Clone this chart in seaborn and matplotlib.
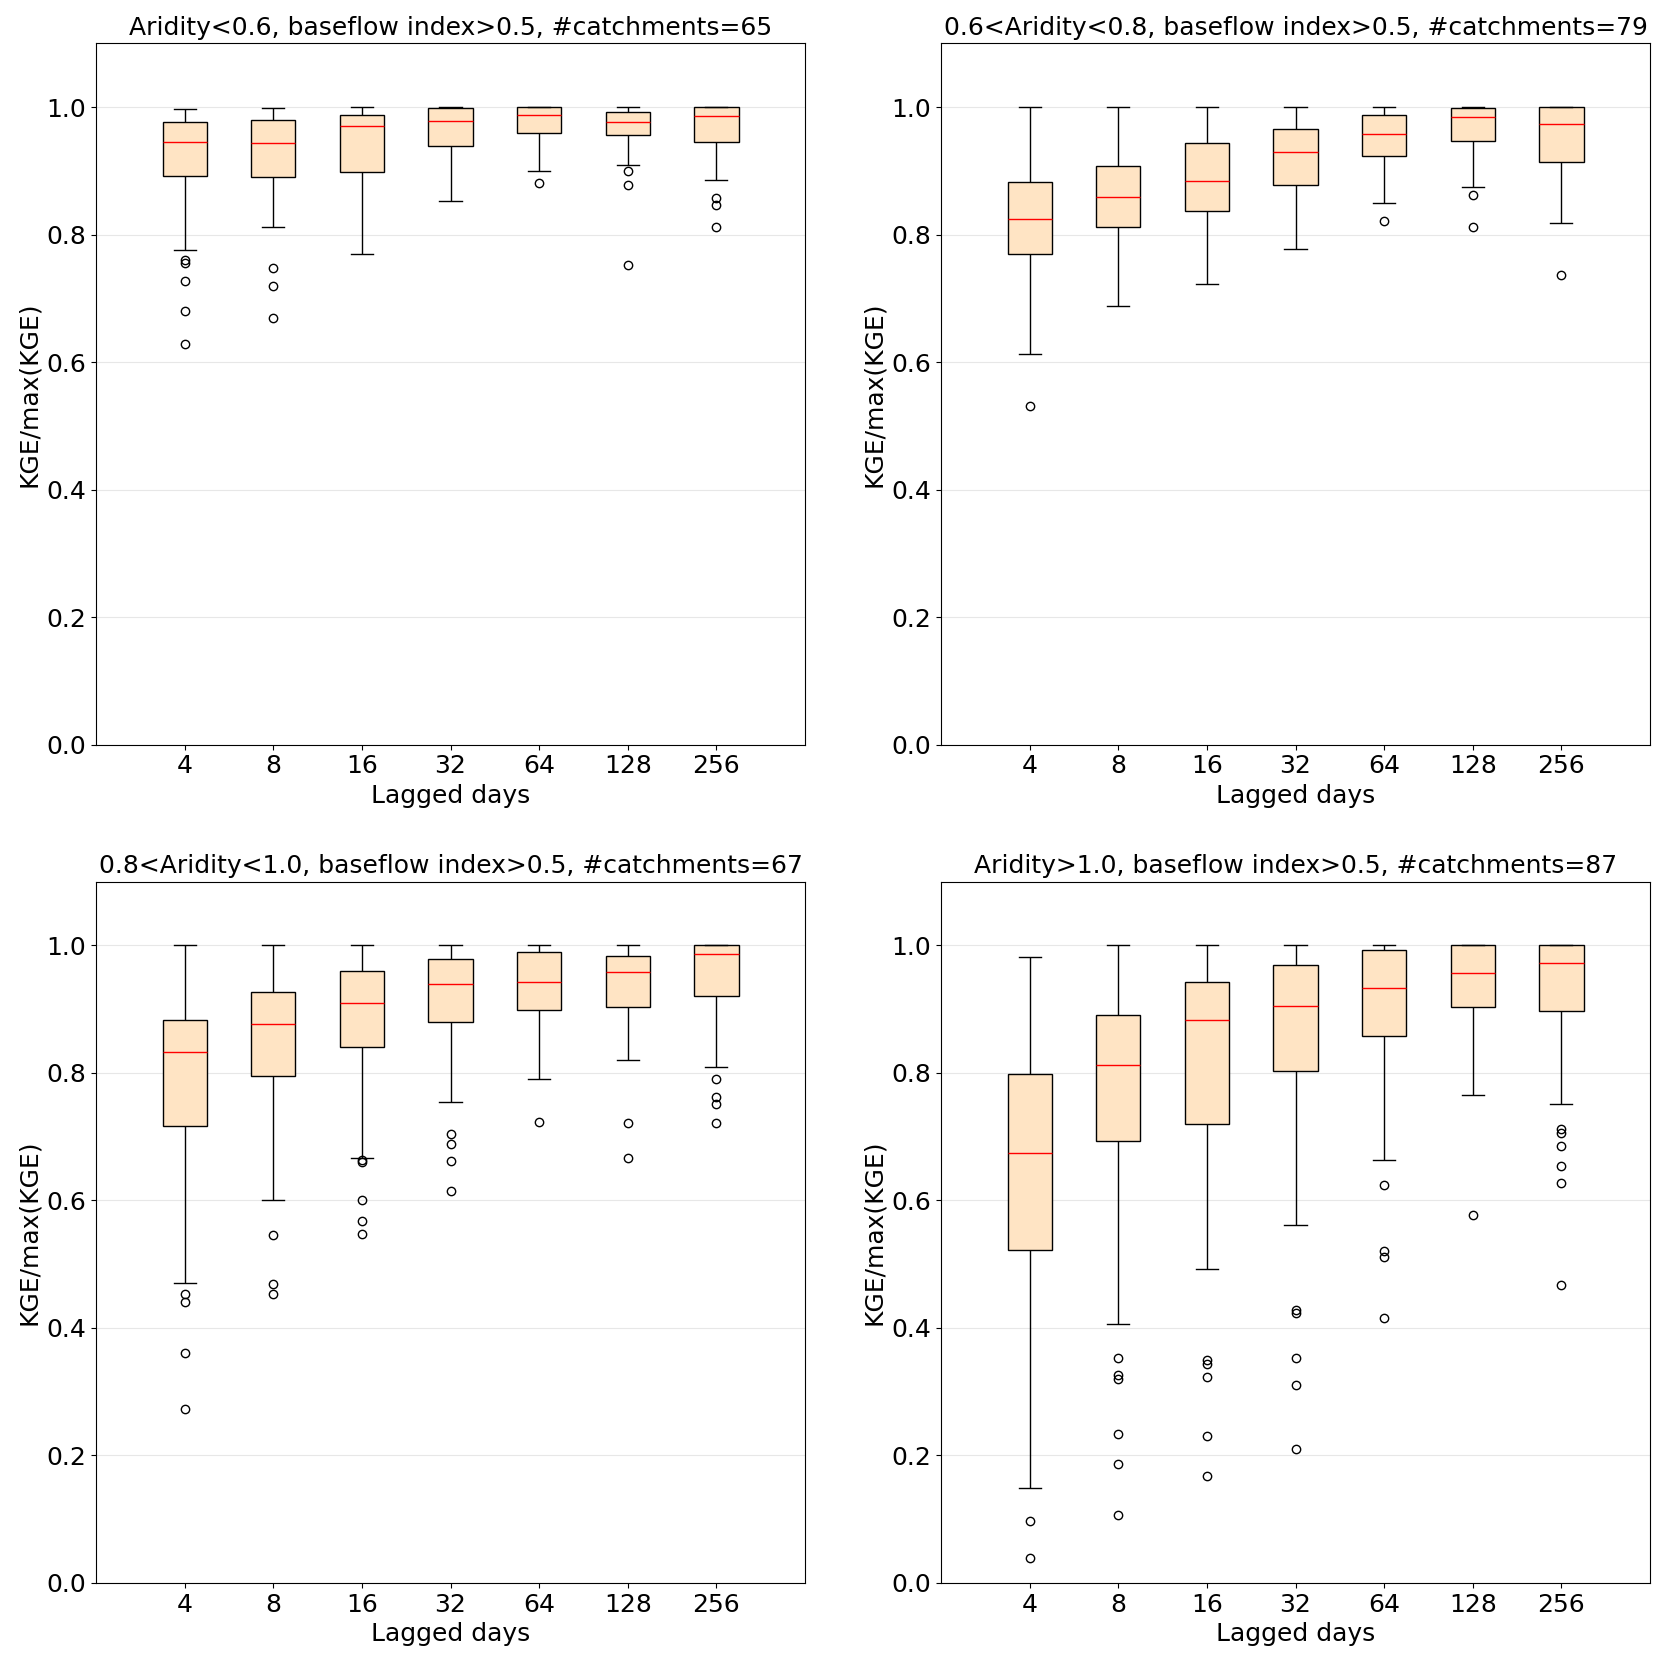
import pandas as pd
import numpy as np
import matplotlib
matplotlib.use("Agg")
import matplotlib.pyplot as plt
import seaborn as sns

# lag windows on the x axis
lags = ["4", "8", "16", "32", "64", "128", "256"]

titles = [
    "Aridity<0.6, baseflow index>0.5, #catchments=65",
    "0.6<Aridity<0.8, baseflow index>0.5, #catchments=79",
    "0.8<Aridity<1.0, baseflow index>0.5, #catchments=67",
    "Aridity>1.0, baseflow index>0.5, #catchments=87",
]

# box summaries: lower whisker, q1, median, q3, upper whisker
p1_lo = [0.776, 0.8125, 0.769, 0.853, 0.900, 0.909, 0.886]
p1_q1 = [0.892, 0.891, 0.898, 0.939, 0.959, 0.956, 0.945]
p1_med = [0.945, 0.944, 0.970, 0.978, 0.9875, 0.977, 0.986]
p1_q3 = [0.977, 0.980, 0.9875, 0.998, 1.0, 0.992, 1.0]
p1_hi = [0.997, 0.998, 1.0, 1.0, 1.0, 1.0, 1.0]
p1_out = [[0.760, 0.755, 0.728, 0.680, 0.628], [0.748, 0.720, 0.670], [], [],
          [0.881], [0.900, 0.878, 0.753], [0.858, 0.847, 0.8125]]

p2_lo = [0.613, 0.688, 0.722, 0.778, 0.850, 0.875, 0.819]
p2_q1 = [0.770, 0.8125, 0.8375, 0.878, 0.923, 0.947, 0.914]
p2_med = [0.825, 0.859, 0.884, 0.930, 0.958, 0.984, 0.973]
p2_q3 = [0.883, 0.907, 0.944, 0.966, 0.9875, 0.998, 1.0]
p2_hi = [1.0, 1.0, 1.0, 1.0, 1.0, 1.0, 1.0]
p2_out = [[0.532], [], [], [], [0.822], [0.8625, 0.8125], [0.7375]]

p3_lo = [0.470, 0.601, 0.667, 0.754, 0.791, 0.820, 0.8086]
p3_q1 = [0.717, 0.795, 0.841, 0.880, 0.899, 0.9026, 0.921]
p3_med = [0.832, 0.876, 0.909, 0.939, 0.942, 0.958, 0.986]
p3_q3 = [0.883, 0.926, 0.959, 0.979, 0.989, 0.984, 1.0]
p3_hi = [1.0, 1.0, 1.0, 1.0, 1.0, 1.0, 1.0]
p3_out = [[0.453, 0.440, 0.361, 0.273], [0.546, 0.4686, 0.453],
          [0.663, 0.660, 0.601, 0.568, 0.547], [0.7035, 0.6876, 0.662, 0.614],
          [0.7236], [0.721, 0.667], [0.791, 0.7616, 0.7505, 0.722]]

p4_lo = [0.149, 0.4057, 0.4927, 0.561, 0.6628, 0.765, 0.7505]
p4_q1 = [0.522, 0.6925, 0.7194, 0.8024, 0.8576, 0.9026, 0.8977]
p4_med = [0.675, 0.812, 0.8825, 0.9046, 0.933, 0.9558, 0.9717]
p4_q3 = [0.7975, 0.890, 0.942, 0.969, 0.9924, 1.0, 1.0]
p4_hi = [0.981, 1.0, 1.0, 1.0, 1.0, 1.0, 1.0]
p4_out = [[0.0974, 0.0394], [0.353, 0.3255, 0.320, 0.234, 0.1866, 0.107],
          [0.3504, 0.3435, 0.3234, 0.2308, 0.168], [0.4285, 0.423, 0.353, 0.311, 0.2108],
          [0.6247, 0.520, 0.5114, 0.416], [0.5764], [0.7125, 0.7056, 0.686, 0.6545, 0.6275, 0.468]]

panels = [
    (p1_lo, p1_q1, p1_med, p1_q3, p1_hi, p1_out),
    (p2_lo, p2_q1, p2_med, p2_q3, p2_hi, p2_out),
    (p3_lo, p3_q1, p3_med, p3_q3, p3_hi, p3_out),
    (p4_lo, p4_q1, p4_med, p4_q3, p4_hi, p4_out),
]


def sample_from_summary(lo, q1, med, q3, hi, out):
    """values whose boxplot stats give back the summary (4m+1 points)"""
    k = len(out)
    m = max(k + 1, 2)
    vals = sorted(out) + [lo] + [q1] * (m - k) + [med] * m + [q3] * m + [q3] * (m - 1) + [hi]
    return vals


def panel_frame(lo, q1, med, q3, hi, out):
    rows = []
    for i, lag in enumerate(lags):
        for v in sample_from_summary(lo[i], q1[i], med[i], q3[i], hi[i], out[i]):
            rows.append((lag, v))
    return pd.DataFrame(rows, columns=["lag", "kge"])


fig, axes = plt.subplots(2, 2, figsize=(16.68, 16.68), dpi=100)
fig.subplots_adjust(left=0.0576, right=0.9892, top=0.974, bottom=0.051,
                    wspace=0.192, hspace=0.195)

for ax, title, stats in zip(axes.flat, titles, panels):
    df = panel_frame(*stats)
    sns.boxplot(data=df, x="lag", y="kge", order=lags, ax=ax,
                width=0.5, color="bisque", saturation=1, linecolor="black",
                linewidth=1, whis=1.5,
                medianprops=dict(color="red", linewidth=1),
                flierprops=dict(marker="o", markerfacecolor="none",
                                markeredgecolor="black", markersize=6))
    ax.set_xlim(-1, 7)
    ax.set_ylim(0, 1.1)
    ax.set_yticks([0.0, 0.2, 0.4, 0.6, 0.8, 1.0])
    ax.yaxis.grid(True, color="#b0b0b0", alpha=0.3)
    ax.set_axisbelow(True)
    ax.tick_params(labelsize=18)
    ax.set_xlabel("Lagged days", fontsize=18)
    ax.set_ylabel("KGE/max(KGE)", fontsize=18)
    ax.set_title(title, fontsize=18)
    for sp in ax.spines.values():
        sp.set_visible(True)
        sp.set_color("black")

fig.savefig("out.png", dpi=100)
